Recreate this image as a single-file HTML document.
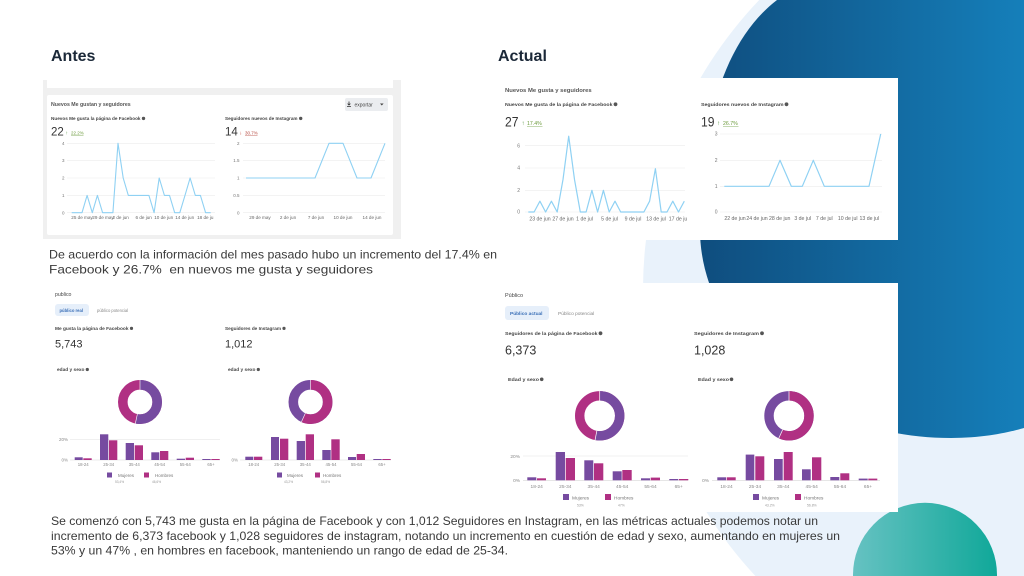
<!DOCTYPE html>
<html><head><meta charset="utf-8"><style>
html,body{margin:0;padding:0;background:#fff;width:1024px;height:576px;overflow:hidden;}
svg{display:block;}
text{font-family:"Liberation Sans",sans-serif;}
</style></head><body>
<svg width="1024" height="576" viewBox="0 0 1024 576" xmlns="http://www.w3.org/2000/svg">
<defs>
<linearGradient id="db" x1="700" y1="0" x2="1024" y2="0" gradientUnits="userSpaceOnUse"><stop offset="0" stop-color="#0f4d7e"/><stop offset="1" stop-color="#157fba"/></linearGradient>
<linearGradient id="tl" x1="853" y1="0" x2="997" y2="0" gradientUnits="userSpaceOnUse"><stop offset="0" stop-color="#66c2c2"/><stop offset="1" stop-color="#10a899"/></linearGradient>
</defs>
<rect width="1024" height="576" fill="#fff"/>
<path d="M759.2,0 A420,420 0 0 0 755.4,576 L1024,576 L1024,0 Z" fill="#e9f2fb"/>
<path d="M777,0 C725,40 700,120 700,230 C700,330 800,438 951,438 C985,438 1010,432 1024,428 L1024,0 Z" fill="url(#db)"/>
<path d="M853.01,576 A72,72 0 1 1 996.99,576 Z" fill="url(#tl)"/>

<!-- Titles -->
<text x="51" y="61" font-size="16" font-weight="bold" fill="#1b2838">Antes</text>
<text x="498" y="61" font-size="16" font-weight="bold" fill="#1b2838">Actual</text>

<!-- ============ TOP LEFT PANEL ============ -->
<rect x="43" y="80" width="358" height="159" fill="#f0f0f0"/>
<rect x="47" y="80" width="346" height="8" fill="#fff"/>
<rect x="47" y="95" width="346" height="140" rx="2" fill="#fff"/>
<text x="51" y="106" font-size="5.2" font-weight="bold" fill="#555" textLength="79.7" lengthAdjust="spacingAndGlyphs">Nuevos Me gustan y seguidores</text>
<rect x="345" y="98" width="43" height="13" rx="2" fill="#ebedf0"/>
<path d="M349,101.5 v3.5 M347.6,103.6 l1.4,1.4 l1.4,-1.4 M347,106.5 h4" stroke="#333" stroke-width="0.8" fill="none"/>
<text x="354.5" y="106.5" font-size="5" fill="#444">exportar</text>
<path d="M380,103.5 h3.6 l-1.8,2 z" fill="#444"/>

<text x="51" y="120" font-size="4.6" font-weight="bold" fill="#444" textLength="89.5" lengthAdjust="spacingAndGlyphs">Nuevos Me gusta la página de Facebook</text>
<circle cx="143.5" cy="118.4" r="1.7" fill="#555"/>
<text x="51" y="135.5" font-size="11.5" fill="#333">22</text>
<text x="65.5" y="134.5" font-size="5" fill="#4f8f3a">↑</text>
<text x="71" y="134.5" font-size="4.5" fill="#6c9a3c">22.2%</text>
<line x1="71" y1="135.6" x2="83.5" y2="135.6" stroke="#6c9a3c" stroke-width="0.4"/>

<text x="225" y="120" font-size="4.6" font-weight="bold" fill="#444" textLength="72.5" lengthAdjust="spacingAndGlyphs">Seguidores nuevos de Instagram</text>
<circle cx="300.7" cy="118.4" r="1.7" fill="#555"/>
<text x="225" y="135.5" font-size="11.5" fill="#333">14</text>
<text x="239.5" y="134.5" font-size="5" fill="#c0392b">↓</text>
<text x="245" y="134.5" font-size="4.5" fill="#b5483f">30.7%</text>
<line x1="245" y1="135.6" x2="257.5" y2="135.6" stroke="#b5483f" stroke-width="0.4"/>

<g stroke="#ececec" stroke-width="0.6">
<line x1="67" y1="143.3" x2="215" y2="143.3"/><line x1="67" y1="160.3" x2="215" y2="160.3"/><line x1="67" y1="178" x2="215" y2="178"/><line x1="67" y1="195.3" x2="215" y2="195.3"/><line x1="67" y1="212.7" x2="215" y2="212.7"/>
<line x1="243" y1="143.3" x2="385" y2="143.3"/><line x1="243" y1="160.3" x2="385" y2="160.3"/><line x1="243" y1="178" x2="385" y2="178"/><line x1="243" y1="195.3" x2="385" y2="195.3"/><line x1="243" y1="212.7" x2="385" y2="212.7"/>
</g>
<g font-size="4.5" fill="#777" text-anchor="end">
<text x="64.5" y="145">4</text><text x="64.5" y="162">3</text><text x="64.5" y="179.7">2</text><text x="64.5" y="197">1</text><text x="64.5" y="214.4">0</text>
<text x="239.5" y="145">2</text><text x="239.5" y="162">1.5</text><text x="239.5" y="179.7">1</text><text x="239.5" y="197">0.5</text><text x="239.5" y="214.4">0</text>
</g>
<g font-size="4.6" fill="#666" text-anchor="middle">
<text x="82" y="219">25 de may</text><text x="103" y="219">29 de may</text><text x="120.7" y="219">2 de jun</text><text x="143.7" y="219">6 de jun</text><text x="163.7" y="219">10 de jun</text><text x="184.7" y="219">14 de jun</text><text x="205.3" y="219">18 de ju</text>
<text x="260" y="219">29 de may</text><text x="288" y="219">2 de jun</text><text x="316" y="219">7 de jun</text><text x="343" y="219">10 de jun</text><text x="372" y="219">14 de jun</text>
</g>
<polyline fill="none" stroke="#8fd1f3" stroke-width="1.1" stroke-linejoin="round" points="71.7,212.7 76.8,212.7 82,212.7 87.1,195.4 92.3,212.7 97.4,195.4 102.6,212.7 107.7,212.7 112.9,212.7 118,143.3 123.2,178 128.3,195.4 133.5,195.4 138.6,195.4 143.8,195.4 148.9,195.4 154.1,212.7 159.2,178 164.4,195.4 169.5,195.4 174.7,212.7 179.8,212.7 185,195.4 190.1,178 195.3,195.4 200.4,195.4 205.6,212.7 210.7,212.7"/>
<polyline fill="none" stroke="#8fd1f3" stroke-width="1.1" stroke-linejoin="round" points="246,178 315,178 329,143.3 343,143.3 357,178 371,178 385,143.3"/>

<!-- ============ TOP RIGHT PANEL ============ -->
<rect x="497" y="78" width="401" height="162" fill="#fff"/>
<text x="505" y="92" font-size="5.6" font-weight="bold" fill="#555" textLength="86.7" lengthAdjust="spacingAndGlyphs">Nuevos Me gusta y seguidores</text>
<text x="505" y="106" font-size="4.9" font-weight="bold" fill="#444" textLength="107.5" lengthAdjust="spacingAndGlyphs">Nuevos Me gusta de la página de Facebook</text>
<circle cx="615.5" cy="104.3" r="1.9" fill="#555"/>
<text x="505" y="126.5" font-size="14" fill="#333" textLength="13.5" lengthAdjust="spacingAndGlyphs">27</text>
<text x="521.5" y="125" font-size="6" fill="#4f8f3a">↑</text>
<text x="527" y="125" font-size="5.2" fill="#6c9a3c">17.4%</text>
<line x1="527" y1="126.3" x2="542.5" y2="126.3" stroke="#6c9a3c" stroke-width="0.4"/>
<text x="701" y="106" font-size="4.9" font-weight="bold" fill="#444" textLength="82.5" lengthAdjust="spacingAndGlyphs">Seguidores nuevos de Instagram</text>
<circle cx="786.5" cy="104.3" r="1.9" fill="#555"/>
<text x="701" y="126.5" font-size="14" fill="#333" textLength="13.5" lengthAdjust="spacingAndGlyphs">19</text>
<text x="717" y="125" font-size="6" fill="#4f8f3a">↑</text>
<text x="723" y="125" font-size="5.2" fill="#6c9a3c">26.7%</text>
<line x1="723" y1="126.3" x2="738.5" y2="126.3" stroke="#6c9a3c" stroke-width="0.4"/>

<g stroke="#ececec" stroke-width="0.6">
<line x1="525" y1="145.7" x2="685" y2="145.7"/><line x1="525" y1="168" x2="685" y2="168"/><line x1="525" y1="190.3" x2="685" y2="190.3"/><line x1="525" y1="212" x2="685" y2="212"/>
<line x1="720" y1="134" x2="882" y2="134"/><line x1="720" y1="160.3" x2="882" y2="160.3"/><line x1="720" y1="186.3" x2="882" y2="186.3"/><line x1="720" y1="212" x2="882" y2="212"/>
</g>
<g font-size="5" fill="#777" text-anchor="end">
<text x="520" y="147.4">6</text><text x="520" y="169.7">4</text><text x="520" y="192">2</text><text x="520" y="213.7">0</text>
<text x="717.5" y="135.7">3</text><text x="717.5" y="162">2</text><text x="717.5" y="188">1</text><text x="717.5" y="213.7">0</text>
</g>
<g font-size="5.2" fill="#666" text-anchor="middle">
<text x="540" y="220.5">23 de jun</text><text x="563" y="220.5">27 de jun</text><text x="584.5" y="220.5">1 de jul</text><text x="609.5" y="220.5">5 de jul</text><text x="633" y="220.5">9 de jul</text><text x="656" y="220.5">13 de jul</text><text x="678" y="220.5">17 de ju</text>
<text x="735" y="220">22 de jun</text><text x="757" y="220">24 de jun</text><text x="779.7" y="220">28 de jun</text><text x="802.7" y="220">3 de jul</text><text x="824.3" y="220">7 de jul</text><text x="847.7" y="220">10 de jul</text><text x="869.3" y="220">13 de jul</text>
</g>
<polyline fill="none" stroke="#8fd1f3" stroke-width="1.2" stroke-linejoin="round" points="528.3,212 534.1,212 539.9,201.2 545.6,212 551.4,201.2 557.2,212 563,179.5 568.7,136.2 574.5,179.5 580.3,212 586.1,212 591.9,190.3 597.6,212 603.4,190.3 609.2,212 615,201.2 620.7,212 626.5,212 632.3,212 638.1,212 643.9,212 649.6,201.2 655.4,168.7 661.2,212 667,212 672.8,201.2 678.5,212 684.3,201.2"/>
<polyline fill="none" stroke="#8fd1f3" stroke-width="1.2" stroke-linejoin="round" points="724.3,186.3 769,186.3 780,160.3 791.3,186.3 802.3,186.3 813.3,160.3 824.3,186.3 869,186.3 880.7,134"/>

<!-- Paragraph 1 -->
<text x="49" y="258.5" font-size="12" fill="#3a3a3a" textLength="448" lengthAdjust="spacingAndGlyphs">De acuerdo con la información del mes pasado hubo un incremento del 17.4% en</text>
<text x="49" y="273.5" font-size="12" fill="#3a3a3a" style="white-space:pre" textLength="324" lengthAdjust="spacingAndGlyphs">Facebook y 26.7%  en nuevos me gusta y seguidores</text>

<!-- ============ BOTTOM LEFT PANEL ============ -->
<text x="55" y="296" font-size="5.2" fill="#444">publico</text>
<rect x="55" y="304" width="34" height="12" rx="3" fill="#e6effa"/>
<text x="59.5" y="311.8" font-size="4.2" font-weight="bold" fill="#3a6fb7">público real</text>
<text x="97" y="311.8" font-size="4.2" fill="#888">público potencial</text>
<text x="55" y="330" font-size="4.3" font-weight="bold" fill="#444" textLength="73.5" lengthAdjust="spacingAndGlyphs">Me gusta la página de Facebook</text>
<circle cx="131.5" cy="328.4" r="1.6" fill="#555"/>
<text x="55" y="347.5" font-size="11" fill="#333">5,743</text>
<text x="225" y="330" font-size="4.3" font-weight="bold" fill="#444" textLength="56" lengthAdjust="spacingAndGlyphs">Seguidores de Instagram</text>
<circle cx="284" cy="328.4" r="1.6" fill="#555"/>
<text x="225" y="347.5" font-size="11" fill="#333">1,012</text>
<text x="57" y="371" font-size="4.2" font-weight="bold" fill="#444" textLength="27.5" lengthAdjust="spacingAndGlyphs">edad y sexo</text>
<circle cx="87.3" cy="369.5" r="1.6" fill="#555"/>
<text x="228" y="371" font-size="4.2" font-weight="bold" fill="#444" textLength="27.5" lengthAdjust="spacingAndGlyphs">edad y sexo</text>
<circle cx="258.3" cy="369.5" r="1.6" fill="#555"/>

<!-- donuts BL -->
<circle cx="140" cy="402" r="17.2" fill="none" stroke="#b03083" stroke-width="9.6"/>
<circle cx="140" cy="402" r="17.2" fill="none" stroke="#764ba0" stroke-width="9.6" stroke-dasharray="57.7 200" transform="rotate(-90 140 402)"/>
<line x1="140" y1="389.6" x2="140" y2="380" stroke="#fff" stroke-width="0.6"/>
<line x1="137.38" y1="414.12" x2="135.35" y2="423.5" stroke="#fff" stroke-width="0.6"/>
<circle cx="310.5" cy="402" r="17.2" fill="none" stroke="#764ba0" stroke-width="9.6"/>
<circle cx="310.5" cy="402" r="17.2" fill="none" stroke="#b03083" stroke-width="9.6" stroke-dasharray="61.4 200" transform="rotate(-90 310.5 402)"/>
<line x1="310.5" y1="389.6" x2="310.5" y2="380" stroke="#fff" stroke-width="0.6"/>
<line x1="305.36" y1="413.28" x2="301.38" y2="422.02" stroke="#fff" stroke-width="0.6"/>

<!-- bars BL1 -->
<line x1="70" y1="439.3" x2="220" y2="439.3" stroke="#e6e6e6" stroke-width="0.6"/>
<line x1="70" y1="460" x2="220" y2="460" stroke="#d8d8d8" stroke-width="0.6"/>
<text x="68" y="441" font-size="4.5" fill="#888" text-anchor="end">20%</text>
<text x="68" y="461.7" font-size="4.5" fill="#888" text-anchor="end">0%</text>
<g fill="#764ba0">
<rect x="74.7" y="457.3" width="8" height="2.7"/><rect x="100" y="434.3" width="8.3" height="25.7"/><rect x="125.7" y="443" width="8.3" height="17"/><rect x="151.3" y="452.3" width="8" height="7.7"/><rect x="176.7" y="458.7" width="8.3" height="1.3"/><rect x="202.3" y="459" width="8.4" height="1"/>
</g>
<g fill="#b03083">
<rect x="83.3" y="458.3" width="8.4" height="1.7"/><rect x="109" y="440.3" width="8.3" height="19.7"/><rect x="134.7" y="445.3" width="8.3" height="14.7"/><rect x="160" y="451" width="8.3" height="9"/><rect x="185.7" y="457.7" width="8.3" height="2.3"/><rect x="211.3" y="459" width="8.4" height="1"/>
</g>
<g font-size="4.3" fill="#888" text-anchor="middle">
<text x="83.2" y="466">18-24</text><text x="108.7" y="466">25-34</text><text x="134.3" y="466">35-44</text><text x="159.7" y="466">45-54</text><text x="185.3" y="466">55-64</text><text x="211" y="466">65+</text>
</g>
<rect x="107" y="472.5" width="5" height="5" fill="#764ba0"/>
<text x="118" y="477" font-size="4.5" fill="#777">Mujeres</text>
<text x="115" y="483" font-size="3.2" fill="#999">53,4%</text>
<rect x="144" y="472.5" width="5" height="5" fill="#b03083"/>
<text x="155" y="477" font-size="4.5" fill="#777">Hombres</text>
<text x="152" y="483" font-size="3.2" fill="#999">46,6%</text>

<!-- bars BL2 -->
<line x1="240" y1="460" x2="391" y2="460" stroke="#d8d8d8" stroke-width="0.6"/>
<text x="238" y="461.7" font-size="4.5" fill="#888" text-anchor="end">0%</text>
<g fill="#764ba0">
<rect x="245.3" y="456.7" width="8" height="3.3"/><rect x="271" y="437" width="8" height="23"/><rect x="296.7" y="441" width="8.3" height="19"/><rect x="322.3" y="450" width="8.4" height="10"/><rect x="348" y="457" width="8" height="3"/><rect x="373.3" y="459" width="8.4" height="1"/>
</g>
<g fill="#b03083">
<rect x="254" y="456.7" width="8.3" height="3.3"/><rect x="280" y="438.7" width="8.3" height="21.3"/><rect x="305.7" y="434.3" width="8.3" height="25.7"/><rect x="331.3" y="439.3" width="8.4" height="20.7"/><rect x="356.7" y="454" width="8.3" height="6"/><rect x="382.3" y="459" width="8.4" height="1"/>
</g>
<g font-size="4.3" fill="#888" text-anchor="middle">
<text x="253.7" y="466">18-24</text><text x="279.7" y="466">25-34</text><text x="305.3" y="466">35-44</text><text x="331" y="466">45-54</text><text x="356.5" y="466">55-64</text><text x="382" y="466">65+</text>
</g>
<rect x="277" y="472.5" width="5" height="5" fill="#764ba0"/>
<text x="287" y="477" font-size="4.5" fill="#777">Mujeres</text>
<text x="284" y="483" font-size="3.2" fill="#999">43,2%</text>
<rect x="315" y="472.5" width="5" height="5" fill="#b03083"/>
<text x="323" y="477" font-size="4.5" fill="#777">Hombres</text>
<text x="321" y="483" font-size="3.2" fill="#999">56,8%</text>

<!-- ============ BOTTOM RIGHT PANEL ============ -->
<rect x="497" y="283" width="401" height="229" fill="#fff"/>
<text x="505" y="297" font-size="5.5" fill="#444">Público</text>
<rect x="505" y="306" width="44" height="14" rx="3" fill="#e6effa"/>
<text x="510" y="315" font-size="4.8" font-weight="bold" fill="#3a6fb7">Público actual</text>
<text x="558" y="315" font-size="4.8" fill="#888">Público potencial</text>
<text x="505" y="335" font-size="4.8" font-weight="bold" fill="#444" textLength="92.5" lengthAdjust="spacingAndGlyphs">Seguidores de la página de Facebook</text>
<circle cx="600.5" cy="333.3" r="1.9" fill="#555"/>
<text x="505" y="354.5" font-size="12.5" fill="#333">6,373</text>
<text x="694" y="335" font-size="4.8" font-weight="bold" fill="#444" textLength="65" lengthAdjust="spacingAndGlyphs">Seguidores de Instagram</text>
<circle cx="762" cy="333.3" r="1.9" fill="#555"/>
<text x="694" y="354.5" font-size="12.5" fill="#333">1,028</text>
<text x="508" y="381" font-size="4.6" font-weight="bold" fill="#444" textLength="31" lengthAdjust="spacingAndGlyphs">Edad y sexo</text>
<circle cx="541.7" cy="379.3" r="1.8" fill="#555"/>
<text x="698" y="381" font-size="4.6" font-weight="bold" fill="#444" textLength="31" lengthAdjust="spacingAndGlyphs">Edad y sexo</text>
<circle cx="731.5" cy="379.3" r="1.8" fill="#555"/>

<!-- donuts BR -->
<circle cx="599.7" cy="415.8" r="20" fill="none" stroke="#b03083" stroke-width="9.4"/>
<circle cx="599.7" cy="415.8" r="20" fill="none" stroke="#764ba0" stroke-width="9.4" stroke-dasharray="66.6 200" transform="rotate(-90 599.7 415.8)"/>
<line x1="599.7" y1="400.5" x2="599.7" y2="391.1" stroke="#fff" stroke-width="0.7"/>
<line x1="596.83" y1="430.83" x2="595.07" y2="440.06" stroke="#fff" stroke-width="0.7"/>
<circle cx="789" cy="415.8" r="20" fill="none" stroke="#764ba0" stroke-width="9.4"/>
<circle cx="789" cy="415.8" r="20" fill="none" stroke="#b03083" stroke-width="9.4" stroke-dasharray="71.4 200" transform="rotate(-90 789 415.8)"/>
<line x1="789" y1="400.5" x2="789" y2="391.1" stroke="#fff" stroke-width="0.7"/>
<line x1="782.66" y1="429.72" x2="778.76" y2="438.28" stroke="#fff" stroke-width="0.7"/>

<!-- bars BR1 -->
<line x1="523" y1="456" x2="688" y2="456" stroke="#e6e6e6" stroke-width="0.6"/>
<line x1="523" y1="480.3" x2="688" y2="480.3" stroke="#d8d8d8" stroke-width="0.6"/>
<text x="520" y="457.8" font-size="4.8" fill="#888" text-anchor="end">20%</text>
<text x="520" y="482" font-size="4.8" fill="#888" text-anchor="end">0%</text>
<g fill="#764ba0">
<rect x="527.3" y="477.3" width="9" height="3"/><rect x="555.7" y="452" width="9.3" height="28.3"/><rect x="584.3" y="460.3" width="9" height="20"/><rect x="612.7" y="471.3" width="9" height="9"/><rect x="641" y="478.3" width="9" height="2"/><rect x="669.3" y="479" width="9" height="1.3"/>
</g>
<g fill="#b03083">
<rect x="537" y="478.3" width="9" height="2"/><rect x="565.7" y="458" width="9.3" height="22.3"/><rect x="594" y="463.3" width="9.3" height="17"/><rect x="622.3" y="470" width="9.4" height="10.3"/><rect x="650.7" y="477.6" width="9.3" height="2.7"/><rect x="679" y="479" width="9.3" height="1.3"/>
</g>
<g font-size="4.8" fill="#888" text-anchor="middle">
<text x="536.7" y="488">18-24</text><text x="565.3" y="488">25-34</text><text x="593.7" y="488">35-44</text><text x="622.2" y="488">45-54</text><text x="650.5" y="488">55-64</text><text x="678.7" y="488">65+</text>
</g>
<rect x="563" y="494" width="6" height="6" fill="#764ba0"/>
<text x="572" y="499.5" font-size="4.8" fill="#777">Mujeres</text>
<text x="577" y="506.5" font-size="3.4" fill="#999">53%</text>
<rect x="605" y="494" width="6" height="6" fill="#b03083"/>
<text x="614" y="499.5" font-size="4.8" fill="#777">Hombres</text>
<text x="618" y="506.5" font-size="3.4" fill="#999">47%</text>

<!-- bars BR2 -->
<line x1="712" y1="480.3" x2="880" y2="480.3" stroke="#d8d8d8" stroke-width="0.6"/>
<text x="709" y="482" font-size="4.8" fill="#888" text-anchor="end">0%</text>
<g fill="#764ba0">
<rect x="717.3" y="477.3" width="8.7" height="3"/><rect x="745.7" y="454.6" width="8.6" height="25.7"/><rect x="774" y="459" width="8.7" height="21.3"/><rect x="802" y="469.3" width="8.7" height="11"/><rect x="830.3" y="477" width="9" height="3.3"/><rect x="858.7" y="478.6" width="9" height="1.7"/>
</g>
<g fill="#b03083">
<rect x="726.7" y="477.3" width="9" height="3"/><rect x="755.3" y="456.3" width="9" height="24"/><rect x="783.7" y="452" width="9" height="28.3"/><rect x="812" y="457.3" width="9.3" height="23"/><rect x="840.3" y="473.3" width="9" height="7"/><rect x="868.3" y="478.6" width="9" height="1.7"/>
</g>
<g font-size="4.8" fill="#888" text-anchor="middle">
<text x="726.5" y="488">18-24</text><text x="755" y="488">25-34</text><text x="783.3" y="488">35-44</text><text x="811.7" y="488">45-54</text><text x="840" y="488">55-64</text><text x="868" y="488">65+</text>
</g>
<rect x="753" y="494" width="6" height="6" fill="#764ba0"/>
<text x="762" y="499.5" font-size="4.8" fill="#777">Mujeres</text>
<text x="765" y="506.5" font-size="3.4" fill="#999">43.2%</text>
<rect x="795" y="494" width="6" height="6" fill="#b03083"/>
<text x="804" y="499.5" font-size="4.8" fill="#777">Hombres</text>
<text x="807" y="506.5" font-size="3.4" fill="#999">56.8%</text>

<!-- Paragraph 2 -->
<text x="51" y="525" font-size="12" fill="#3a3a3a" textLength="767" lengthAdjust="spacingAndGlyphs">Se comenzó con 5,743 me gusta en la página de Facebook y con 1,012 Seguidores en Instagram, en las métricas actuales podemos notar un</text>
<text x="51" y="540" font-size="12" fill="#3a3a3a" textLength="789" lengthAdjust="spacingAndGlyphs">incremento de 6,373 facebook y 1,028 seguidores de instagram, notando un incremento en cuestión de edad y sexo, aumentando en mujeres un</text>
<text x="51" y="554.5" font-size="12" fill="#3a3a3a" textLength="457" lengthAdjust="spacingAndGlyphs">53% y un 47% , en hombres en facebook, manteniendo un rango de edad de 25-34.</text>
</svg>
</body></html>
